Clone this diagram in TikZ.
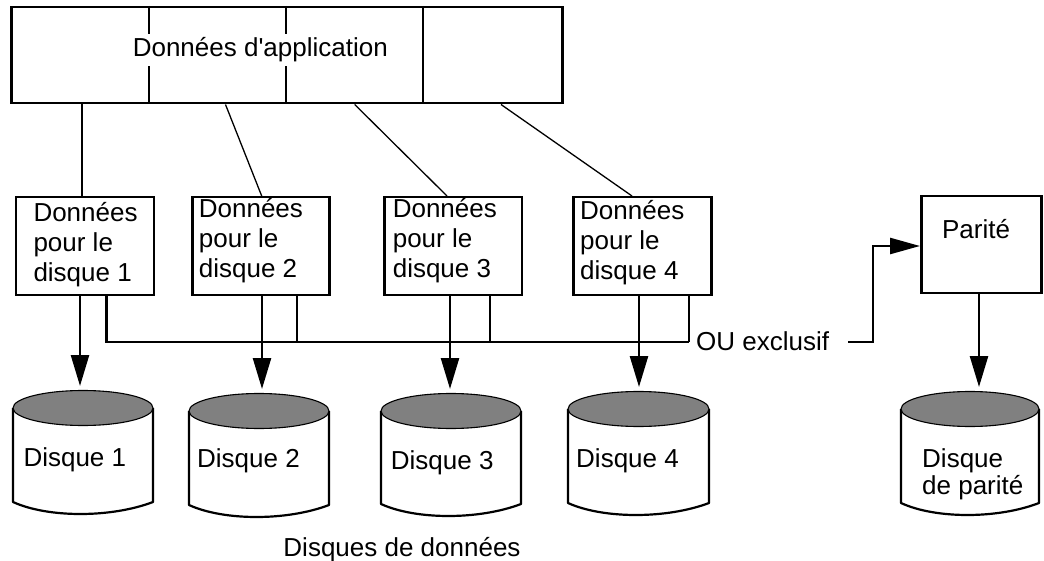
\documentclass[tikz,border=0pt]{standalone}
\usepackage{fontspec}
\setmainfont{Liberation Sans}
\usetikzlibrary{arrows.meta}
\tikzset{
  thickln/.style={line width=2.5pt},
  thinln/.style={line width=1.3pt},
  arr/.style={line width=2.5pt,-{Triangle[length=31pt,width=18pt]}},
  boxnode/.style={draw,line width=2.5pt,anchor=north west,inner sep=0pt},
  txt/.style={font=\fontsize{26}{30}\selectfont,inner sep=0pt},
  mltxt/.style={txt,align=left,anchor=north west},
  diskside/.style={line width=2.2pt,line join=round},
  disktop/.style={fill={rgb,255:red,128;green,128;blue,128},draw=black,line width=1.1pt}
}
\newcommand\drawdisk[5]{%
  \pgfmathsetmacro\dcx{(#2+#3)/2}%
  \pgfmathsetmacro\drx{(#3-#2)/2}%
  \draw[diskside] (#2,#4) -- (#2,#5) .. controls ({#2+0.25*(#3-#2)},#5+16) and ({#3-0.3*(#3-#2)},#5+16) .. (#3,#5) -- (#3,#4);
  \filldraw[disktop] (\dcx,#4) ellipse [x radius=\drx, y radius=17.5];
  \coordinate (#1) at (\dcx,#4-22);
}
\begin{document}
\begin{tikzpicture}[x=1pt,y=-1pt]
\useasboundingbox (0,0) rectangle (1044,561);
% top box
\node[boxnode,minimum width=551pt,minimum height=96pt] (app) at (10.3,6) {};
\coordinate (v1) at (149,0);
\coordinate (v2) at (286,0);
\coordinate (v3) at (423,0);
\draw[thickln] (app.north -| v1) -- (app.south -| v1);
\draw[thickln] (app.north -| v2) -- (app.south -| v2);
\draw[thickln] (app.north -| v3) -- (app.south -| v3);
\node[txt,anchor=base west,fill=white,inner xsep=1pt,inner ysep=3.5pt] (apptxt) at (131.6,56.7) {Données d\textquotesingle application};
% data boxes
\node[boxnode,minimum width=137.7pt,minimum height=98pt] (b1) at (14.8,196) {};
\node[boxnode,minimum width=137pt,minimum height=98pt] (b2) at (191,196) {};
\node[boxnode,minimum width=137.7pt,minimum height=98pt] (b3) at (383,196) {};
\node[boxnode,minimum width=138pt,minimum height=98pt] (b4) at (572,196) {};
\node[boxnode,minimum width=120pt,minimum height=97pt] (par) at (920,195) {};
\node[mltxt] (t1) at (33.3,199) {\rule{0pt}{22pt}Données\\pour le\\disque 1};
\node[mltxt] (t2) at (198.7,195.5) {\rule{0pt}{22pt}Données\\pour le\\disque 2};
\node[mltxt] (t3) at (392.6,195.5) {\rule{0pt}{22pt}Données\\pour le\\disque 3};
\node[mltxt] (t4) at (580,197) {\rule{0pt}{22pt}Données\\pour le\\disque 4};
\node[txt,anchor=base] (tp) at (976,238.5) {Parité};
% top connectors
\coordinate (l1) at (82,0);
\coordinate (l2a) at (225.5,0); \coordinate (l2b) at (261.7,0);
\coordinate (l3a) at (354.7,0); \coordinate (l3b) at (447,0);
\coordinate (l4a) at (501,0);   \coordinate (l4b) at (632,0);
\draw[thickln] (app.south -| l1) -- (b1.north -| l1);
\draw[thinln] (app.south -| l2a) -- (b2.north -| l2b);
\draw[thinln] (app.south -| l3a) -- (b3.north -| l3b);
\draw[thinln] (app.south -| l4a) -- (b4.north -| l4b);
% disks
\drawdisk{d1}{13}{153}{408}{502}
\drawdisk{d2}{189}{329}{411}{505}
\drawdisk{d3}{381}{521}{411}{504}
\drawdisk{d4}{568}{709}{409}{503}
\drawdisk{dp}{901}{1039}{409}{503}
\node[txt,anchor=base west] (dl1) at (23.3,466) {Disque 1};
\node[txt,anchor=base west] (dl2) at (197,467) {Disque 2};
\node[txt,anchor=base west] (dl3) at (390.7,469) {Disque 3};
\node[txt,anchor=base west] (dl4) at (576,467) {Disque 4};
\node[txt,align=left,anchor=north west,font=\fontsize{26}{27}\selectfont] (dlp) at (922,445) {\rule{0pt}{22pt}Disque\\de parité};
\node[txt,anchor=base] (dd) at (402,556) {Disques de données};
% down arrows
\coordinate (a1) at (80,0);
\coordinate (a2) at (262,0);
\coordinate (a3) at (450,0);
\coordinate (a4) at (639,0);
\coordinate (ap) at (979,0);
\draw[arr] (b1.south -| a1) -- (d1 -| a1);
\draw[arr] (b2.south -| a2) -- (d2 -| a2);
\draw[arr] (b3.south -| a3) -- (d3 -| a3);
\draw[arr] (b4.south -| a4) -- (d4 -| a4);
\draw[arr] (par.south -| ap) -- (dp -| ap);
% XOR lines
\coordinate (s1) at (106.7,0);
\coordinate (s2) at (297,0);
\coordinate (s3) at (490,0);
\coordinate (xorL) at (689,342);
\node[txt,anchor=base west] (xor) at (696,350) {OU exclusif};
\draw[thickln] (b1.south -| s1) |- (xorL);
\draw[thickln] (b2.south -| s2) -- (xorL -| s2);
\draw[thickln] (b3.south -| s3) -- (xorL -| s3);
\draw[thickln] (b4.south -| xorL) -- (xorL);
\coordinate (xorR) at (848,342);
\coordinate (elb) at (873,246);
\draw[line width=2.5pt,-{Triangle[length=30pt,width=16pt]}] (xorR) -| (elb) -- (par.west |- elb);
\end{tikzpicture}
\end{document}
